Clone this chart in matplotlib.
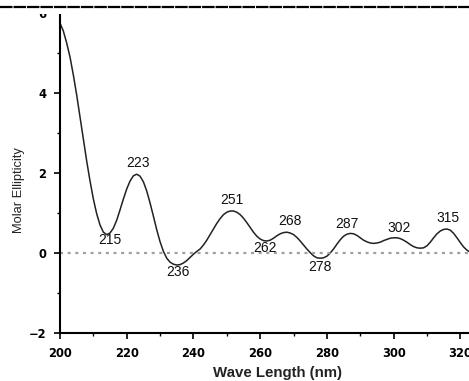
import numpy as np
import matplotlib
matplotlib.use('Agg')
import matplotlib.pyplot as plt
from matplotlib.lines import Line2D
from matplotlib.patches import Rectangle

plt.rcParams['font.family'] = ['Liberation Sans', 'DejaVu Sans']
plt.rcParams['lines.scale_dashes'] = False

# CD spectrum
wavelength = [200, 201, 202, 203, 204, 205, 206, 207, 208, 209, 210, 211, 212, 213,
              214, 215, 216, 217, 218, 219, 220, 221, 222, 223, 224, 225, 226, 227,
              228, 229, 230, 231, 232, 233, 234, 235, 236, 237, 238, 239, 240, 241,
              242, 243, 244, 245, 246, 247, 248, 249, 250, 251, 252, 253, 254, 255,
              256, 257, 258, 259, 260, 261, 262, 263, 264, 265, 266, 267, 268, 269,
              270, 271, 272, 273, 274, 275, 276, 277, 278, 279, 280, 281, 282, 283,
              284, 285, 286, 287, 288, 289, 290, 291, 292, 293, 294, 295, 296, 297,
              298, 299, 300, 301, 302, 303, 304, 305, 306, 307, 308, 309, 310, 311,
              312, 313, 314, 315, 316, 317, 318, 319, 320, 321, 322, 323]
ellipticity = [5.75, 5.55, 5.25, 4.9, 4.45, 3.95, 3.4, 2.85, 2.3, 1.8, 1.35, 0.98, 0.7, 0.52,
               0.46, 0.5, 0.62, 0.82, 1.08, 1.35, 1.6, 1.8, 1.93, 1.97, 1.92, 1.78, 1.55, 1.25,
               0.92, 0.58, 0.28, 0.04, -0.13, -0.23, -0.28, -0.3, -0.29, -0.25, -0.19, -0.11, -0.03, 0.04,
               0.1, 0.2, 0.32, 0.46, 0.6, 0.74, 0.86, 0.96, 1.02, 1.05, 1.05, 1.02, 0.96, 0.87,
               0.76, 0.64, 0.52, 0.42, 0.35, 0.31, 0.3, 0.32, 0.37, 0.43, 0.48, 0.51, 0.52, 0.5,
               0.46, 0.39, 0.3, 0.2, 0.1, 0.01, -0.07, -0.12, -0.13, -0.12, -0.08, 0.0, 0.1, 0.22,
               0.33, 0.42, 0.47, 0.49, 0.48, 0.44, 0.38, 0.32, 0.28, 0.25, 0.24, 0.25, 0.27, 0.31,
               0.34, 0.37, 0.38, 0.38, 0.36, 0.32, 0.27, 0.21, 0.16, 0.13, 0.12, 0.13, 0.18, 0.27,
               0.38, 0.48, 0.55, 0.59, 0.6, 0.57, 0.49, 0.38, 0.26, 0.15, 0.07, 0.02]

peak_labels = ['215', '223', '236', '251', '262', '268', '278', '287', '302', '315']
label_x = [215, 223.4, 235.5, 251.6, 261.5, 269, 278, 286, 301.7, 316.4]
label_y = [0.33, 2.25, -0.48, 1.33, 0.12, 0.8, -0.35, 0.72, 0.63, 0.88]

fig = plt.figure(figsize=(4.69, 3.81), dpi=100)
ax = fig.add_axes([60 / 469, 48 / 381, 417 / 469, 320 / 381])

ax.plot(wavelength, ellipticity, color='#222222', lw=1.1)
ax.axhline(0, color='#a0a0a0', lw=1.6, dashes=(2.2, 3.3))

for txt, x, y in zip(peak_labels, label_x, label_y):
    ax.text(x, y, txt, ha='center', va='center', fontsize=10, color='#111111')

ax.set_xlim(200, 325)
ax.set_ylim(-2, 6)
ax.set_xticks([200, 220, 240, 260, 280, 300, 320])
ax.set_xticks(np.arange(210, 325, 20), minor=True)
ax.set_yticks([-2, 0, 2, 4, 6])
ax.set_yticks([-1, 1, 3, 5], minor=True)
for lab in ax.get_xticklabels() + ax.get_yticklabels():
    lab.set_fontweight('bold')
    lab.set_fontfamily('DejaVu Sans')
ax.tick_params(which='major', direction='out', length=4, width=1.2, labelsize=8.3)
ax.tick_params(axis='x', which='major', pad=6)
ax.tick_params(axis='y', which='major', pad=6)
ax.tick_params(which='minor', direction='out', length=2, width=1.0)

ax.spines['top'].set_visible(False)
ax.spines['right'].set_visible(False)
ax.spines['left'].set_linewidth(1.5)
ax.spines['bottom'].set_linewidth(1.5)

ax.set_xlabel('Wave Length (nm)', fontsize=10.8, fontweight='bold', color='#222222')
ax.set_ylabel('Molar Ellipticity', fontsize=9.3, color='#222222')
ax.xaxis.set_label_coords(217 / 417, -33 / 320)
ax.yaxis.set_label_coords(-35 / 417, 143 / 320)

# cropped top edge of the original figure
fig.patches.append(Rectangle((0, 367 / 381), 1, 14 / 381, transform=fig.transFigure,
                             facecolor='white', edgecolor='none', zorder=5))
fig.lines.append(Line2D([0, 1], [374.5 / 381, 374.5 / 381], transform=fig.transFigure,
                        color='black', lw=1.6, dashes=(9, 0.7), zorder=6))

fig.savefig('out.png', dpi=100)
